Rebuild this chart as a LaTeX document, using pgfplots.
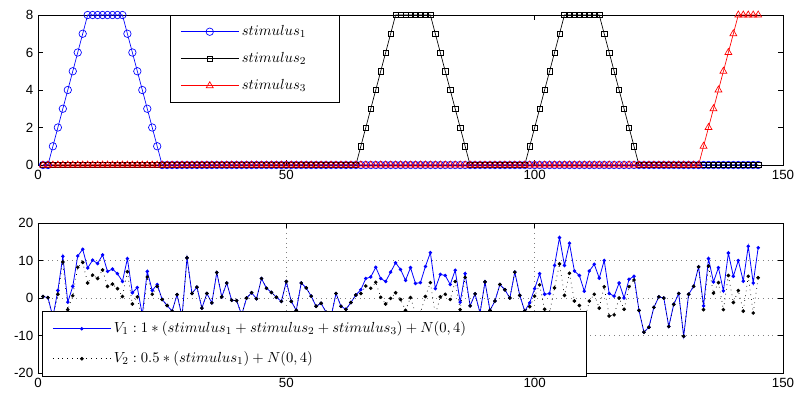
\documentclass[border=0pt]{standalone}
\usepackage{fontspec}
\setmainfont{Liberation Sans}
\usepackage{pgfplots}
\pgfplotsset{compat=1.18}
\usepackage{pgfplotstable}

\pgfplotstableread{
x s1 s2 s3 v1 v2
1 0 0 0 0.4 0.4
2 0 0 0 0.1 0.1
3 1 0 0 -5.0 -5.5
4 2 0 0 2.0 1.0
5 3 0 0 11.1 9.6
6 4 0 0 -1.1 -3.1
7 5 0 0 3.1 0.6
8 6 0 0 11.2 8.2
9 7 0 0 13.0 9.5
10 8 0 0 8.0 4.0
11 8 0 0 10.1 6.1
12 8 0 0 9.2 5.2
13 8 0 0 11.5 7.5
14 8 0 0 7.1 3.1
15 8 0 0 7.7 3.7
16 8 0 0 6.5 2.5
17 8 0 0 4.4 0.4
18 7 0 0 10.5 7.0
19 6 0 0 1.4 -1.6
20 5 0 0 2.8 0.3
21 4 0 0 -4.5 -6.5
22 3 0 0 7.1 5.6
23 2 0 0 2.0 1.0
24 1 0 0 3.6 3.1
25 0 0 0 -0.4 -0.4
26 0 0 0 -2.0 -2.0
27 0 0 0 -3.5 -3.5
28 0 0 0 0.9 0.9
29 0 0 0 -5.0 -5.0
30 0 0 0 10.7 10.7
31 0 0 0 1.2 1.2
32 0 0 0 2.9 2.9
33 0 0 0 -2.7 -2.7
34 0 0 0 1.2 1.2
35 0 0 0 -1.3 -1.3
36 0 0 0 6.8 6.8
37 0 0 0 0.3 0.3
38 0 0 0 4.0 4.0
39 0 0 0 -0.6 -0.6
40 0 0 0 -0.7 -0.7
41 0 0 0 -4.5 -4.5
42 0 0 0 0.0 0.0
43 0 0 0 1.4 1.4
44 0 0 0 -0.2 -0.2
45 0 0 0 5.2 5.2
46 0 0 0 2.6 2.6
47 0 0 0 1.5 1.5
48 0 0 0 0.2 0.2
49 0 0 0 -0.9 -0.9
50 0 0 0 4.4 4.4
51 0 0 0 -0.9 -0.9
52 0 0 0 -3.3 -3.3
53 0 0 0 4.0 4.0
54 0 0 0 2.7 2.7
55 0 0 0 0.5 0.5
56 0 0 0 -2.2 -2.2
57 0 0 0 -1.4 -1.4
58 0 0 0 -3.8 -3.8
59 0 0 0 -5.0 -5.0
60 0 0 0 1.2 1.2
61 0 0 0 -2.2 -2.2
62 0 0 0 -3.0 -3.0
63 0 0 0 -1.2 -1.2
64 0 0 0 0.8 0.8
65 0 1 0 2.2 1.2
66 0 2 0 5.2 3.2
67 0 3 0 5.6 2.6
68 0 4 0 8.2 4.2
69 0 5 0 5.2 0.2
70 0 6 0 4.4 -1.6
71 0 7 0 6.9 -0.1
72 0 8 0 9.4 1.4
73 0 8 0 7.6 -0.4
74 0 8 0 4.7 -3.3
75 0 8 0 8.1 0.1
76 0 8 0 3.9 -4.1
77 0 8 0 4.1 -3.9
78 0 8 0 8.4 0.4
79 0 8 0 12.1 4.1
80 0 7 0 2.5 -4.5
81 0 6 0 6.3 0.3
82 0 5 0 6.0 1.0
83 0 4 0 3.6 -0.4
84 0 3 0 7.4 4.4
85 0 2 0 -1.1 -3.1
86 0 1 0 6.5 5.5
87 0 0 0 -2.1 -2.1
88 0 0 0 1.1 1.1
89 0 0 0 -4.0 -4.0
90 0 0 0 4.3 4.3
91 0 0 0 -3.3 -3.3
92 0 0 0 -0.8 -0.8
93 0 0 0 3.6 3.6
94 0 0 0 2.2 2.2
95 0 0 0 0.0 0.0
96 0 0 0 6.9 6.9
97 0 0 0 0.7 0.7
98 0 0 0 -3.5 -3.5
99 0 1 0 -1.3 -2.3
100 0 2 0 2.5 0.5
101 0 3 0 6.5 3.5
102 0 4 0 1.0 -3.0
103 0 5 0 1.2 -3.8
104 0 6 0 8.7 2.7
105 0 7 0 16.1 9.1
106 0 8 0 8.7 0.7
107 0 8 0 14.6 6.6
108 0 8 0 7.2 -0.8
109 0 8 0 6.0 -2.0
110 0 8 0 1.8 -6.2
111 0 8 0 7.2 -0.8
112 0 8 0 9.0 1.0
113 0 8 0 5.3 -2.7
114 0 7 0 10.0 3.0
115 0 6 0 1.2 -4.8
116 0 5 0 0.5 -4.5
117 0 4 0 4.0 0.0
118 0 3 0 0.0 -3.0
119 0 2 0 5.0 3.0
120 0 1 0 5.8 4.8
121 0 0 0 -3.3 -3.3
122 0 0 0 -9.1 -9.1
123 0 0 0 -7.8 -7.8
124 0 0 0 -2.5 -2.5
125 0 0 0 0.3 0.3
126 0 0 0 0.0 0.0
127 0 0 0 -7.6 -7.6
128 0 0 0 -1.7 -1.7
129 0 0 0 1.2 1.2
130 0 0 0 -10.2 -10.2
131 0 0 0 1.0 1.0
132 0 0 0 3.1 3.1
133 0 0 0 8.3 8.3
134 0 0 1 -2.1 -3.1
135 0 0 2 10.5 8.5
136 0 0 3 4.3 1.3
137 0 0 4 8.1 4.1
138 0 0 5 1.9 -3.1
139 0 0 6 12.0 6.0
140 0 0 7 5.8 -1.2
141 0 0 8 10.0 2.0
142 0 0 8 4.5 -3.5
143 0 0 8 13.8 5.8
144 0 0 8 4.0 -4.0
145 0 0 8 13.4 5.4
}\data

\begin{document}
\begin{tikzpicture}
\useasboundingbox (0,0) rectangle (598.5pt,295.5pt);
\pgfplotsset{
  every axis/.append style={
    scale only axis, width=558.75pt, height=112.5pt,
    xmin=0, xmax=150, xtick={0,50,100,150},
    tick align=inside, major tick length=3.5pt,
    axis line style={line width=0.6pt},
    tick style={black, line width=0.6pt},
    tick label style={font=\fontsize{10}{12}\selectfont},
    /pgf/number format/assume math mode=true,
    legend cell align=left,
    legend style={font=\fontsize{10.8}{13}\selectfont, draw=black, line width=0.6pt, fill=white,
      inner xsep=7.5pt, nodes={inner sep=2pt, text height=7.5pt, text depth=2.5pt}},
    legend image code/.code={\draw[mark repeat=2,mark phase=2] plot coordinates {(0pt,0pt) (21.75pt,0pt) (43.5pt,0pt)};},
    clip=false,
  }
}
\begin{axis}[at={(28.5pt,171.75pt)}, anchor=south west,
  ymin=0, ymax=8, ytick={0,2,4,6,8},
  legend style={at={(0.1772,1)}, anchor=north west, inner ysep=5.25pt, row sep=6.25pt}]
\addplot[blue, line width=0.5pt, mark=o, mark size=2.8pt, mark options={solid, line width=0.5pt}] table[x=x,y=s1]{\data};
\addlegendentry{\makebox[63.5pt][l]{$stimulus_1$}}
\addplot[black, line width=0.5pt, mark=square, mark size=2pt, mark options={solid, line width=0.5pt}] table[x=x,y=s2]{\data};
\addlegendentry{\makebox[63.5pt][l]{$stimulus_2$}}
\addplot[red, line width=0.5pt, mark=triangle, mark size=3pt, mark options={solid, line width=0.5pt}] table[x=x,y=s3]{\data};
\addlegendentry{\makebox[63.5pt][l]{$stimulus_3$}}
\end{axis}

\begin{axis}[at={(28.5pt,15.75pt)}, anchor=south west,
  ymin=-20, ymax=20, ytick={-20,-10,0,10,20},
  grid=major, grid style={gray, line width=0.5pt, dash pattern=on 0.6pt off 3pt},
  legend style={at={(0.0054,0.4133)}, anchor=north west, inner ysep=6pt, row sep=8.5pt}]
\addplot[blue, line width=0.6pt, mark=*, mark size=1pt, mark options={solid}] table[x=x,y=v1]{\data};
\addlegendentry{\makebox[345pt][l]{$V_1: 1*(stimulus_1+stimulus_2+stimulus_3)+N(0,4)$}}
\addplot[black, line width=0.5pt, dash pattern=on 0.6pt off 3pt, mark=*, mark size=1.1pt, mark options={solid}] table[x=x,y=v2]{\data};
\addlegendentry{\makebox[345pt][l]{$V_2: 0.5*(stimulus_1)+N(0,4)$}}
\end{axis}
\end{tikzpicture}
\end{document}
